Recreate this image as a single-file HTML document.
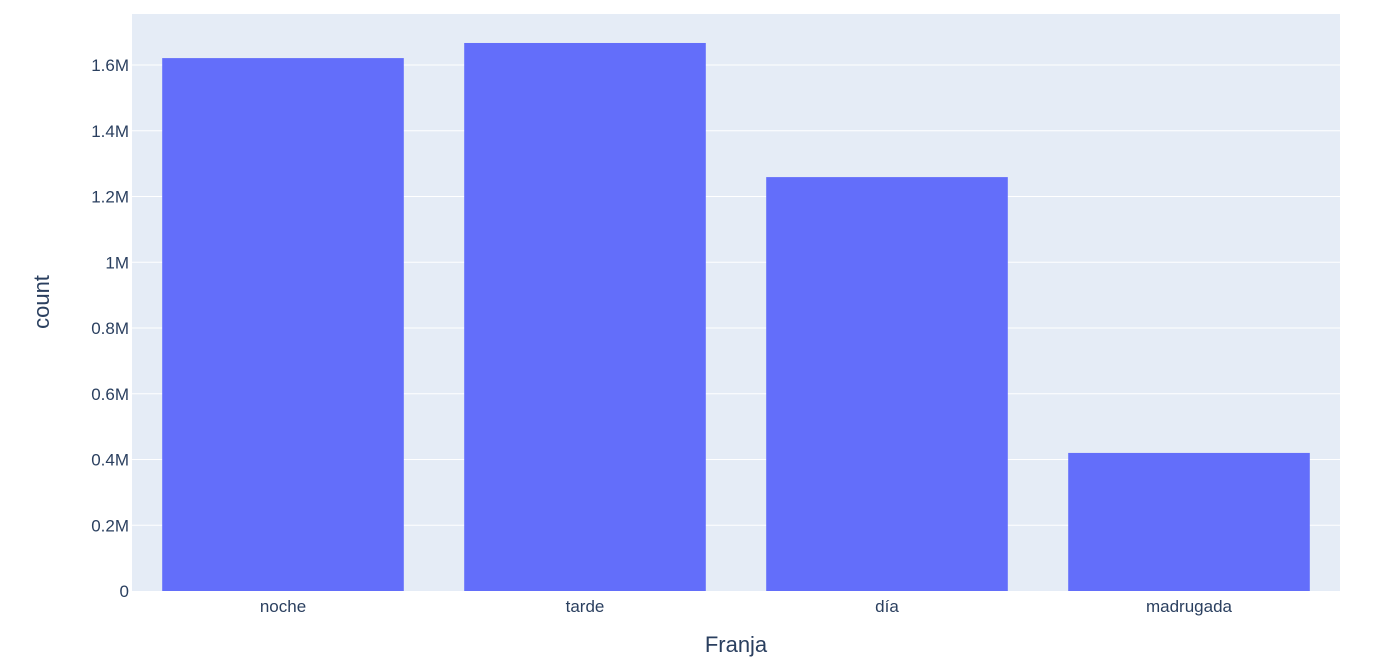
<!DOCTYPE html>
<html><head><meta charset="utf-8"><style>
body{margin:0;background:#fff;}
svg text{font-family:"Liberation Sans",sans-serif;fill:#2a3f5f;}
</style></head><body>
<svg id="chart" width="1392" height="666" xmlns="http://www.w3.org/2000/svg">
<rect x="132" y="14" width="1208" height="577" fill="#e5ecf6"/>
<g id="grid"></g><g id="bars"></g><g id="xt"></g><g id="yt"></g>
<text x="736" y="652" font-size="22" text-anchor="middle">Franja</text>
<text transform="translate(49,302) rotate(-90)" font-size="22" text-anchor="middle">count</text>
</svg>
<script>
const categories=["noche","tarde","día","madrugada"];
const counts=[1621000,1667000,1259000,420000];
const tickValues=[0,200000,400000,600000,800000,1000000,1200000,1400000,1600000];
const tickLabels=["0","0.2M","0.4M","0.6M","0.8M","1M","1.2M","1.4M","1.6M"];
const X0=132,W=1208,Y0=591,PPM=328.75;
const y=v=>Y0-v/1e6*PPM;
const band=W/categories.length;
const xc=i=>X0+band*(i+0.5);
const NS="http://www.w3.org/2000/svg";
function mk(t,a,p){const e=document.createElementNS(NS,t);for(const k in a)e.setAttribute(k,a[k]);p.appendChild(e);return e;}
const g=document.getElementById('grid'),b=document.getElementById('bars'),xt=document.getElementById('xt'),yt=document.getElementById('yt');
tickValues.forEach((v,i)=>{
 if(v>0){const l=mk('line',{x1:X0,x2:X0+W,y1:y(v),y2:y(v),stroke:'#fff','stroke-width':1},g);
 
 }
 const t=mk('text',{x:X0-3,y:y(v)+6,'font-size':17,'text-anchor':'end'},yt);t.textContent=tickLabels[i];
 
 
});
categories.forEach((c,i)=>{
 const bw=band*0.8;
 const r=mk('rect',{x:xc(i)-bw/2,y:y(counts[i]),width:bw,height:Y0-y(counts[i]),fill:'#636efa'},b);
 
 
 const t=mk('text',{x:xc(i),y:612,'font-size':17,'text-anchor':'middle'},xt);t.textContent=c;
 
 
});
</script>
</body></html>
